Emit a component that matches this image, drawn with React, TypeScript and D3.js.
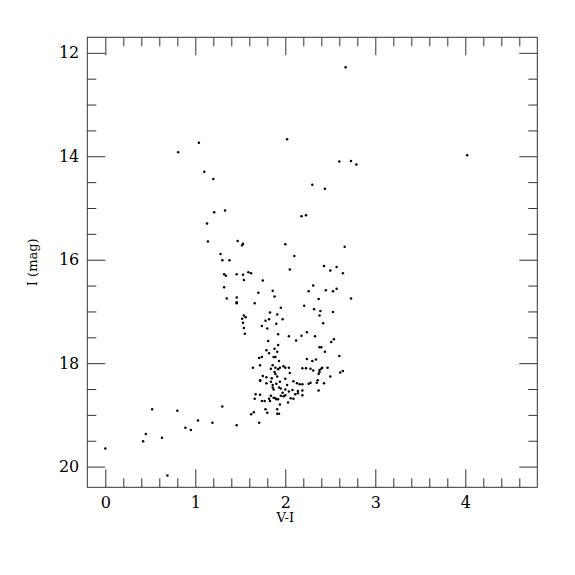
import React, { useRef, useEffect } from 'react';
import * as d3 from 'd3';

// [V-I, I] pairs
const brightStars: [number, number][] = [
  [2.67, 12.28], [2.02, 13.67], [1.04, 13.74], [0.81, 13.92], [4.02, 13.98],
  [2.60, 14.10], [2.73, 14.09], [2.79, 14.16], [1.10, 14.30], [1.20, 14.44],
  [2.30, 14.55], [2.44, 14.63], [1.33, 15.05], [1.21, 15.08], [2.18, 15.16],
  [2.23, 15.14], [1.13, 15.30], [1.14, 15.65], [1.47, 15.64], [1.53, 15.69],
  [1.52, 15.72], [2.00, 15.70], [2.66, 15.75], [1.28, 15.89], [2.10, 15.93],
  [1.30, 16.01], [1.38, 16.01], [2.43, 16.12], [2.57, 16.14], [2.50, 16.21],
  [2.64, 16.26], [2.05, 16.19], [1.32, 16.28], [1.34, 16.31], [1.46, 16.28],
  [1.53, 16.29], [1.59, 16.24], [1.62, 16.26], [1.54, 16.39], [1.75, 16.40],
];

const giantStars: [number, number][] = [
  [1.32, 16.53], [1.70, 16.64], [1.86, 16.60], [1.88, 16.71], [1.35, 16.75],
  [1.46, 16.73], [1.46, 16.82], [1.46, 16.84], [1.66, 16.84], [1.83, 17.02],
  [1.91, 17.06], [1.54, 17.08], [1.56, 17.11], [1.52, 17.14], [1.82, 17.15],
  [1.78, 17.18], [1.53, 17.22], [1.90, 17.24], [1.74, 17.28], [1.80, 17.33],
  [1.54, 17.32], [1.55, 17.43], [1.92, 17.44], [1.81, 17.57], [1.92, 17.65],
  [1.79, 17.75], [1.88, 17.72], [1.82, 17.81], [1.87, 17.88], [1.89, 17.88],
  [1.91, 17.78], [1.71, 17.90], [1.74, 17.88], [1.93, 17.96], [1.72, 18.04],
  [1.86, 18.04], [1.89, 18.09], [1.64, 18.09], [1.84, 18.11], [1.92, 18.12],
  [1.88, 18.17], [1.89, 18.21], [1.75, 18.25], [1.79, 18.27], [1.72, 18.33],
  [1.85, 18.29], [1.91, 18.26], [1.79, 18.39], [1.84, 18.36], [1.86, 18.42],
  [1.90, 18.40], [1.93, 18.47], [1.87, 18.51], [1.86, 18.47], [1.84, 18.63],
  [1.87, 18.67], [1.89, 18.68], [1.90, 18.70], [1.83, 18.73],
  [2.31, 16.50], [2.26, 16.61], [2.45, 16.59], [2.53, 16.61], [2.57, 16.56],
  [2.73, 16.75], [2.37, 16.76], [2.21, 16.89], [1.95, 16.93], [2.32, 16.96],
  [2.39, 16.99], [2.53, 17.01], [2.38, 17.08], [1.97, 17.15], [2.42, 17.23],
  [2.24, 17.40], [2.18, 17.47], [2.04, 17.48], [2.33, 17.48], [2.54, 17.54],
  [2.51, 17.59], [2.12, 17.56], [2.38, 17.69], [2.40, 17.69], [2.44, 17.78],
  [2.60, 17.86], [2.24, 17.92], [2.34, 17.93], [2.30, 17.96], [1.98, 18.06],
  [2.00, 18.09], [2.04, 18.09], [1.94, 18.09], [2.19, 18.10], [2.23, 18.10],
  [2.28, 18.11], [2.31, 18.14], [2.38, 18.13], [2.40, 18.11], [2.41, 18.09],
  [2.47, 18.09], [2.64, 18.15], [2.61, 18.18], [2.37, 18.21], [2.38, 18.17],
  [2.50, 18.26], [2.05, 18.19], [2.00, 18.30], [2.09, 18.35], [2.13, 18.39],
  [2.16, 18.41], [2.19, 18.41], [2.26, 18.40], [2.28, 18.38], [2.36, 18.33],
  [2.35, 18.38], [2.43, 18.39], [2.02, 18.42], [1.95, 18.49], [2.00, 18.51],
  [2.08, 18.52], [2.04, 18.55], [1.97, 18.57], [2.14, 18.54], [2.19, 18.53],
  [2.14, 18.58], [2.37, 18.53], [2.19, 18.62], [2.11, 18.60], [1.95, 18.63],
  [1.98, 18.64], [2.00, 18.62], [1.92, 18.70], [2.06, 18.68], [2.09, 18.69],
  [2.03, 18.76], [1.94, 18.80], [1.91, 18.89], [1.91, 18.98], [1.93, 18.98],
  [1.94, 18.36],
];

const faintStars: [number, number][] = [
  [0.00, 19.65], [0.42, 19.51], [0.45, 19.37], [0.52, 18.89], [0.63, 19.44],
  [0.69, 20.17], [0.80, 18.92], [0.89, 19.25], [0.95, 19.29], [1.03, 19.11],
  [1.19, 19.15], [1.30, 18.84], [1.46, 19.20], [1.62, 18.99], [1.65, 18.95],
  [1.71, 19.15], [1.66, 18.69], [1.67, 18.60], [1.72, 18.61], [1.74, 18.73],
  [1.77, 18.73], [1.78, 18.89], [1.80, 18.96], [1.82, 18.69], [1.72, 18.34],
];

const xMajor = [0, 1, 2, 3, 4];
const xMinor = [0.2, 0.4, 0.6, 0.8, 1.2, 1.4, 1.6, 1.8, 2.2, 2.4, 2.6, 2.8, 3.2, 3.4, 3.6, 3.8, 4.2, 4.4, 4.6];
const yMajor = [12, 14, 16, 18, 20];
const yMinor = [12.5, 13, 13.5, 14.5, 15, 15.5, 16.5, 17, 17.5, 18.5, 19, 19.5];

export default function App() {
  const ref = useRef<SVGSVGElement>(null);

  useEffect(() => {
    const margin = { top: 37.3, left: 87.3 };
    const width = 450;
    const height = 450;
    const font = '"DejaVu Serif", "Liberation Serif", serif';
    const ink = '#333';

    const root = d3.select(ref.current);
    root.selectAll('*').remove();
    const svg = root.append('g').attr('transform', 'translate(' + margin.left + ',' + margin.top + ')');

    const x = d3.scaleLinear().domain([-0.2, 4.8]).range([0, width]);
    const y = d3.scaleLinear().domain([11.7, 20.4]).range([0, height]);

    const styleAxis = (g: any) => {
      g.select('.domain').remove();
      g.selectAll('line').attr('stroke', ink).attr('stroke-width', 1);
      g.selectAll('text').attr('fill', '#000').style('font-family', font).style('font-size', '16px');
    };

    // bottom
    svg.append('g').attr('transform', 'translate(0,' + height + ')')
      .call(d3.axisBottom(x).tickValues(xMinor).tickSize(-9).tickFormat(() => ''))
      .call(styleAxis);
    svg.append('g').attr('transform', 'translate(0,' + height + ')')
      .call(d3.axisBottom(x).tickValues(xMajor).tickSize(-18).tickPadding(9).tickFormat(d3.format('d')))
      .call(styleAxis);
    // top
    svg.append('g')
      .call(d3.axisTop(x).tickValues(xMinor).tickSize(-9).tickFormat(() => ''))
      .call(styleAxis);
    svg.append('g')
      .call(d3.axisTop(x).tickValues(xMajor).tickSize(-18).tickFormat(() => ''))
      .call(styleAxis);
    // left
    svg.append('g')
      .call(d3.axisLeft(y).tickValues(yMinor).tickSize(-9).tickFormat(() => ''))
      .call(styleAxis);
    svg.append('g')
      .call(d3.axisLeft(y).tickValues(yMajor).tickSize(-18).tickPadding(8).tickFormat(d3.format('d')))
      .call(styleAxis);
    // right
    svg.append('g').attr('transform', 'translate(' + width + ',0)')
      .call(d3.axisRight(y).tickValues(yMinor).tickSize(-9).tickFormat(() => ''))
      .call(styleAxis);
    svg.append('g').attr('transform', 'translate(' + width + ',0)')
      .call(d3.axisRight(y).tickValues(yMajor).tickSize(-18).tickFormat(() => ''))
      .call(styleAxis);

    svg.append('rect')
      .attr('width', width).attr('height', height)
      .attr('fill', 'none').attr('stroke', ink).attr('stroke-width', 1);

    const stars = [...brightStars, ...giantStars, ...faintStars];
    svg.append('g')
      .attr('fill', '#000')
      .selectAll('circle')
      .data(stars)
      .join('circle')
        .attr('cx', d => x(d[0]))
        .attr('cy', d => y(d[1]))
        .attr('r', 1.25);

    svg.append('text')
      .attr('x', x(2)).attr('y', height + 35)
      .attr('text-anchor', 'middle')
      .style('font-family', font).style('font-size', '13px').attr('fill', '#000')
      .text('V-I');

    svg.append('text')
      .attr('transform', 'translate(-50,' + (height / 2) + ') rotate(-90)')
      .attr('text-anchor', 'middle')
      .style('font-family', font).style('font-size', '13px').attr('fill', '#000')
      .text('I (mag)');
  }, []);

  return (
    <div style={{ position: 'absolute', left: 0, top: 0, width: 575, height: 575, background: '#fff' }}>
      <svg ref={ref} width={575} height={575}></svg>
    </div>
  );
}
